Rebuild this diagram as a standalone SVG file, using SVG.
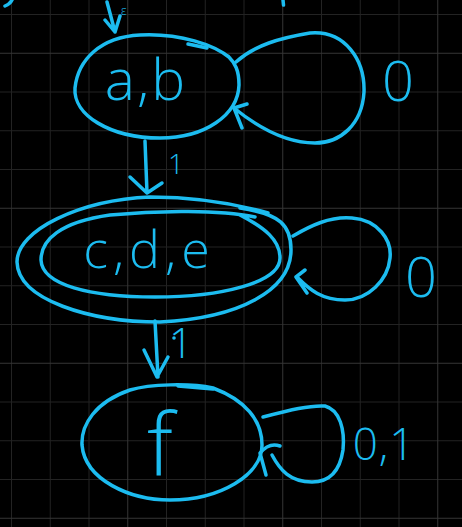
<svg xmlns="http://www.w3.org/2000/svg" width="462" height="527" viewBox="0 0 462 527">
<style>
.ink{fill:none;stroke:#1cbcf0;stroke-width:3.5;stroke-linecap:round;stroke-linejoin:round}
.lbl{fill:#1cbcf0;font-family:"Open Sans","Liberation Sans",sans-serif;font-weight:300}
.minor{stroke:#232323;stroke-width:1;fill:none}
.major{stroke:#363636;stroke-width:1;fill:none}
</style>
<rect width="462" height="527" fill="#000"/>
<g id="grid">
<path class="minor" d="M11.5 0V527M50.25 0V527M89 0V527M166.5 0V527M205.25 0V527M244 0V527M321.5 0V527M360.25 0V527M399 0V527M0 14.5H462M0 92H462M0 130.75H462M0 169.5H462M0 247H462M0 285.75H462M0 324.5H462M0 402H462M0 440.75H462M0 479.5H462"/>
<path class="major" d="M127.75 0V527M282.75 0V527M437.75 0V527M0 53.25H462M0 208.25H462M0 363.25H462M0 518.25H462"/>
</g>
<g id="fragments">
<path class="ink" d="M5 6 Q10 4 12 0"/>
<path class="ink" d="M283 0 L283.5 5"/>
</g>
<g id="node-ab">
<path class="ink" d="M230 58 C215 45 180 33 140 35 C100 37 78 60 75 88 C73 115 110 138 160 138 C205 138 238 115 239 85 C239 70 235 63 228 56"/>
<path class="ink" d="M188 44 L207 48"/>
<text class="lbl" x="146" y="100" font-size="57" letter-spacing="2" text-anchor="middle">a,b</text>
</g>
<g id="node-cde">
<path class="ink" d="M268 213 C240 205 200 197 150 197 C80 200 17 230 17 262 C18 300 90 322 160 322 C240 318 291 290 291 250 C291 225 280 214 240 208"/>
<path class="ink" d="M255 217 C220 210 160 210 110 215 C60 222 41 240 41 260 C42 285 90 297 155 297 C220 297 280 283 280 258 C280 240 265 228 240 215"/>
<text class="lbl" x="149" y="268" font-size="52" letter-spacing="5" text-anchor="middle">c,d,e</text>
</g>
<g id="node-f">
<path class="ink" d="M213 388 C190 383 150 384 130 390 C95 402 81 425 82 445 C85 480 130 500 170 500 C220 500 262 475 262 445 C262 420 245 400 213 388"/>
<path class="ink" d="M178 386 L213 389"/>
<text class="lbl" x="160" y="476" font-size="86" text-anchor="middle">f</text>
</g>
<g id="connectors">
<path class="ink" d="M107 2 L115 32 M105 20 L115 32 L120 16"/>
<text class="lbl" x="121" y="15" font-size="12">ε</text>
<path class="ink" d="M236 62 C255 45 280 38 310 33 C345 30 365 60 364 92 C362 125 340 143 315 143 C285 143 255 125 234 108 M242 128 L234 108 L247 104"/>
<text class="lbl" x="398" y="101" font-size="56" text-anchor="middle">0</text>
<path class="ink" d="M145 141 L147 193 M130 177 L147 193 L162 183"/>
<text class="lbl" x="176" y="174" font-size="28" text-anchor="middle">1</text>
<path class="ink" d="M293 236 C310 226 330 216 352 218 C378 220 392 240 390 258 C388 280 368 300 345 300 C322 300 310 290 298 278 M305 270 L296 277 L307 293"/>
<text class="lbl" x="421" y="297" font-size="56" text-anchor="middle">0</text>
<path class="ink" d="M155 321 L158 377 M144 350 L157 377 L168 357"/>
<circle cx="174" cy="338" r="1.8" fill="#1cbcf0"/>
<text class="lbl" x="181" y="358" font-size="42" text-anchor="middle">1</text>
<path class="ink" d="M263 417 C290 410 310 405 325 406 C340 410 345 430 343 450 C340 470 330 482 312 482 C290 482 280 470 272 455 M280 446 C272 443 265 447 260 453 L266 475"/>
<text class="lbl" x="384" y="460" font-size="44" letter-spacing="1" text-anchor="middle">0,1</text>
</g>
</svg>
